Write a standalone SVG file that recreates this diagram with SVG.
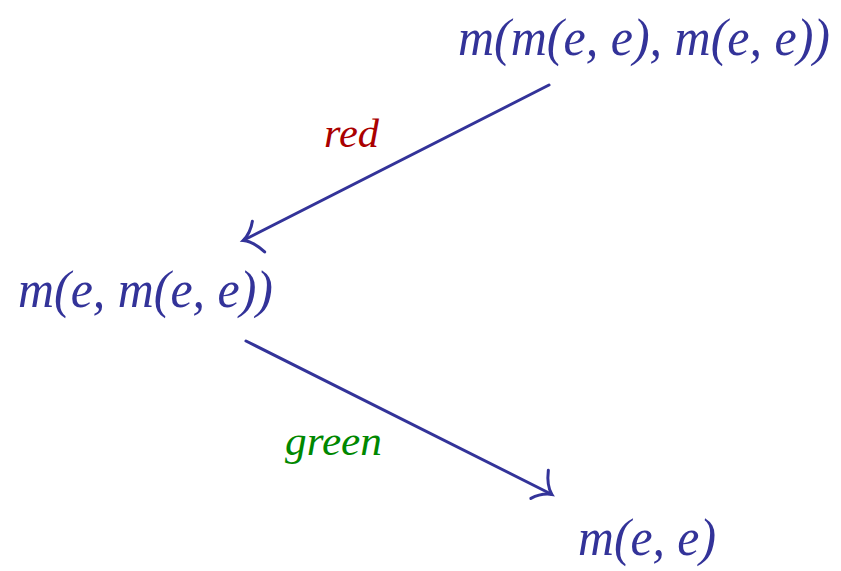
<svg xmlns="http://www.w3.org/2000/svg" width="841" height="571" viewBox="0 0 841 571">
<style>
.n{font-family:"Liberation Serif","DejaVu Serif",serif;font-style:italic;font-size:52px;fill:#333399}
.l{font-family:"Liberation Serif","DejaVu Serif",serif;font-style:italic;font-size:41px}
.e{fill:none;stroke:#333399;stroke-width:3;stroke-linecap:round}
</style>
<defs>
<marker id="ah" markerUnits="userSpaceOnUse" markerWidth="60" markerHeight="60" refX="0" refY="0" viewBox="-30 -30 60 60" orient="auto" overflow="visible">
<path d="M -13,-20 C -9,-9 -4,-3 1,0 C -5,2 -11,6 -16,13" fill="none" stroke="#333399" stroke-width="3" stroke-linecap="round"/>
</marker>
</defs>
<rect width="841" height="571" fill="#fff"/>
<g id="edges">
<line class="e" x1="549" y1="85" x2="244" y2="240" marker-end="url(#ah)"/>
<text class="l" x="324" y="147" fill="#aa0000" textLength="55" lengthAdjust="spacingAndGlyphs">red</text>
<line class="e" x1="246" y1="341" x2="551" y2="494" marker-end="url(#ah)"/>
<text class="l" x="285" y="455" fill="#008800" textLength="97" lengthAdjust="spacingAndGlyphs">green</text>
</g>
<g id="top"><text class="n" x="458" y="55" textLength="372" lengthAdjust="spacingAndGlyphs">m(m(e, e), m(e, e))</text></g>
<g id="mid"><text class="n" x="18" y="307" textLength="255" lengthAdjust="spacingAndGlyphs">m(e, m(e, e))</text></g>
<g id="bot"><text class="n" x="578" y="555" textLength="138" lengthAdjust="spacingAndGlyphs">m(e, e)</text></g>
</svg>
